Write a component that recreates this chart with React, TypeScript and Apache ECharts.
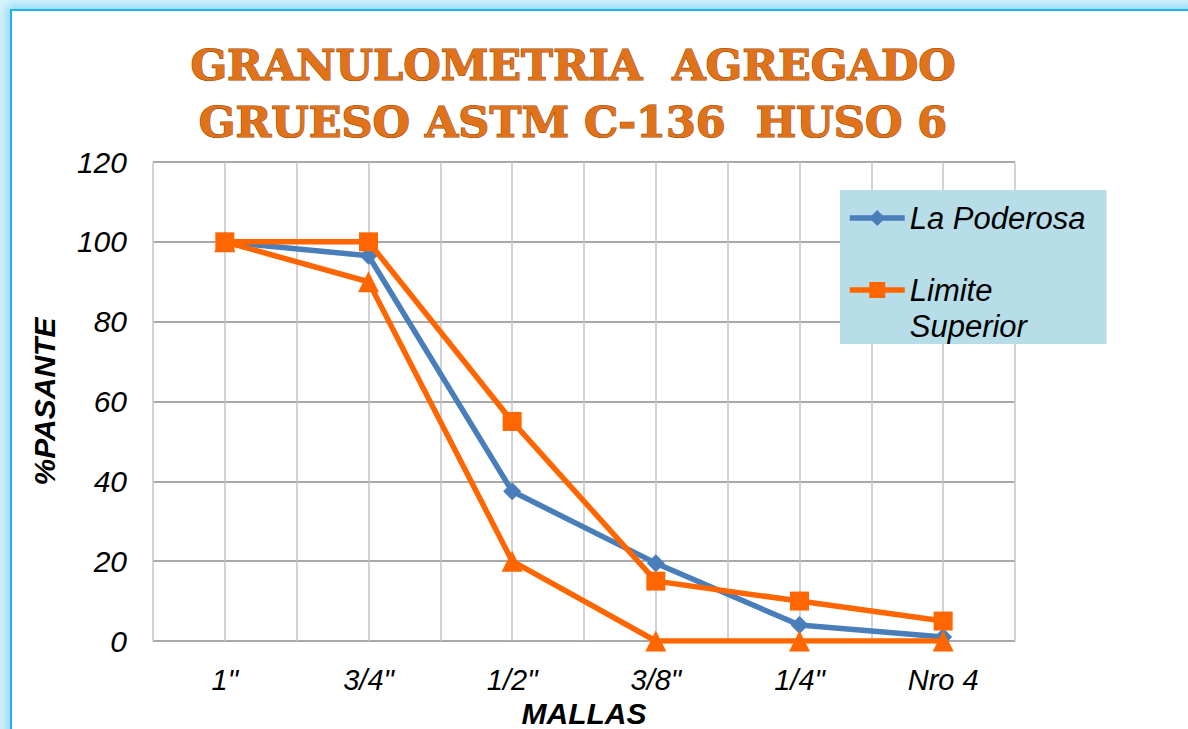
import React, { useEffect, useRef } from "react";
import * as echarts from "echarts";

const categories = ['1"', '3/4"', '1/2"', '3/8"', '1/4"', "Nro 4"];
const laPoderosa = [100, 96.5, 37.5, 19.5, 4, 1];
const limiteSuperior = [100, 100, 55, 15, 10, 5];
const limiteInferior = [100, 90, 20, 0, 0, 0];
const titleLines = ["GRANULOMETRIA  AGREGADO", "GRUESO ASTM C-136  HUSO 6"];
const seriesNames = ["La Poderosa", "Limite Superior", "Limite Inferior"];

const SANS = "'Liberation Sans', Arial, sans-serif";

export default function App() {
  const ref = useRef<HTMLDivElement>(null);
  useEffect(() => {
    if (!ref.current) return;
    const chart = echarts.init(ref.current, null, { renderer: "svg" });
    const toPts = (arr: number[]) => arr.map((v, i) => [i, v]);
    const titleText = (text: string, y: number) => ({
      type: "text",
      x: 573,
      y,
      style: {
        text,
        font: "bold 43px 'DejaVu Serif', serif",
        fill: "#e0731a",
        textAlign: "center",
        textVerticalAlign: "middle",
        stroke: "#a24a0a",
        lineWidth: 1.2,
        shadowColor: "rgba(0,0,0,0.35)",
        shadowOffsetX: 2,
        shadowOffsetY: 2,
        shadowBlur: 2,
      },
    });
    chart.setOption({
      animation: false,
      backgroundColor: "transparent",
      grid: { left: 153, top: 162, right: 173, bottom: 88, containLabel: false, outerBoundsMode: "none" },
      xAxis: {
        type: "value",
        min: -0.5,
        max: 5.5,
        interval: 0.5,
        name: "MALLAS",
        nameLocation: "middle",
        nameGap: 54,
        nameTextStyle: {
          fontFamily: SANS,
          fontSize: 30,
          lineHeight: 30,
          fontStyle: "italic",
          fontWeight: "bold",
          color: "#000",
        },
        axisLine: { show: false },
        axisTick: { show: false },
        axisLabel: {
          margin: 24,
          fontFamily: SANS,
          fontSize: 29,
          fontStyle: "italic",
          color: "#000",
          showMinLabel: false,
          showMaxLabel: false,
          formatter: (v: number) => (Number.isInteger(v) ? categories[v] ?? "" : ""),
        },
        splitLine: { show: true, lineStyle: { color: "#c4c4c4", width: 1.5 } },
      },
      yAxis: {
        type: "value",
        min: 0,
        max: 120,
        interval: 20,
        name: "%PASANTE",
        nameLocation: "middle",
        nameRotate: 90,
        nameGap: 94,
        nameTextStyle: { fontFamily: SANS, fontSize: 30, fontStyle: "italic", fontWeight: "bold", color: "#000" },
        axisLine: { show: false },
        axisTick: { show: false },
        axisLabel: { margin: 26, fontFamily: SANS, fontSize: 30, fontStyle: "italic", color: "#000" },
        splitLine: { show: true, lineStyle: { color: "#8c8c8c", width: 1.5 } },
      },
      legend: {
        data: [seriesNames[0], seriesNames[1]],
        orient: "vertical",
        left: 840,
        top: 190,
        padding: [10, 21, 0, 7],
        itemGap: 0,
        itemWidth: 55,
        itemHeight: 20,
        backgroundColor: "#b7dde8",
        lineStyle: { width: 5.5 },
        formatter: (name: string) => (name === "Limite Superior" ? "\nLimite\nSuperior" : name),
        textStyle: { fontFamily: SANS, fontSize: 31, fontStyle: "italic", color: "#000", lineHeight: 36 },
      },
      graphic: [titleText(titleLines[0], 65), titleText(titleLines[1], 122)],
      series: [
        {
          name: seriesNames[0],
          type: "line",
          data: toPts(laPoderosa),
          symbol: "diamond",
          symbolSize: 18,
          lineStyle: { color: "#4a7ebb", width: 5.5 },
          itemStyle: { color: "#4a7ebb" },
          z: 2,
        },
        {
          name: seriesNames[1],
          type: "line",
          data: toPts(limiteSuperior),
          symbol: "rect",
          symbolSize: 19,
          lineStyle: { color: "#ff6600", width: 5.5 },
          itemStyle: { color: "#ff6600" },
          z: 3,
        },
        {
          name: seriesNames[2],
          type: "line",
          data: toPts(limiteInferior),
          symbol: "triangle",
          symbolSize: 21,
          lineStyle: { color: "#ff6600", width: 5.5 },
          itemStyle: { color: "#ff6600" },
          z: 4,
        },
      ],
    });
    return () => chart.dispose();
  }, []);

  return (
    <div
      style={{
        position: "fixed",
        left: 0,
        top: 0,
        width: 1188,
        height: 729,
        overflow: "hidden",
        background: "#d8f2fc",
      }}
    >
      <div
        style={{
          position: "absolute",
          left: 10,
          top: 9,
          width: 1300,
          height: 900,
          background: "#ffffff",
          border: "2px solid #1fb2ee",
          boxShadow: "0 0 10px 3px #86d6f6",
        }}
      />
      <div ref={ref} style={{ position: "absolute", left: 0, top: 0, width: 1188, height: 729 }} />
    </div>
  );
}
